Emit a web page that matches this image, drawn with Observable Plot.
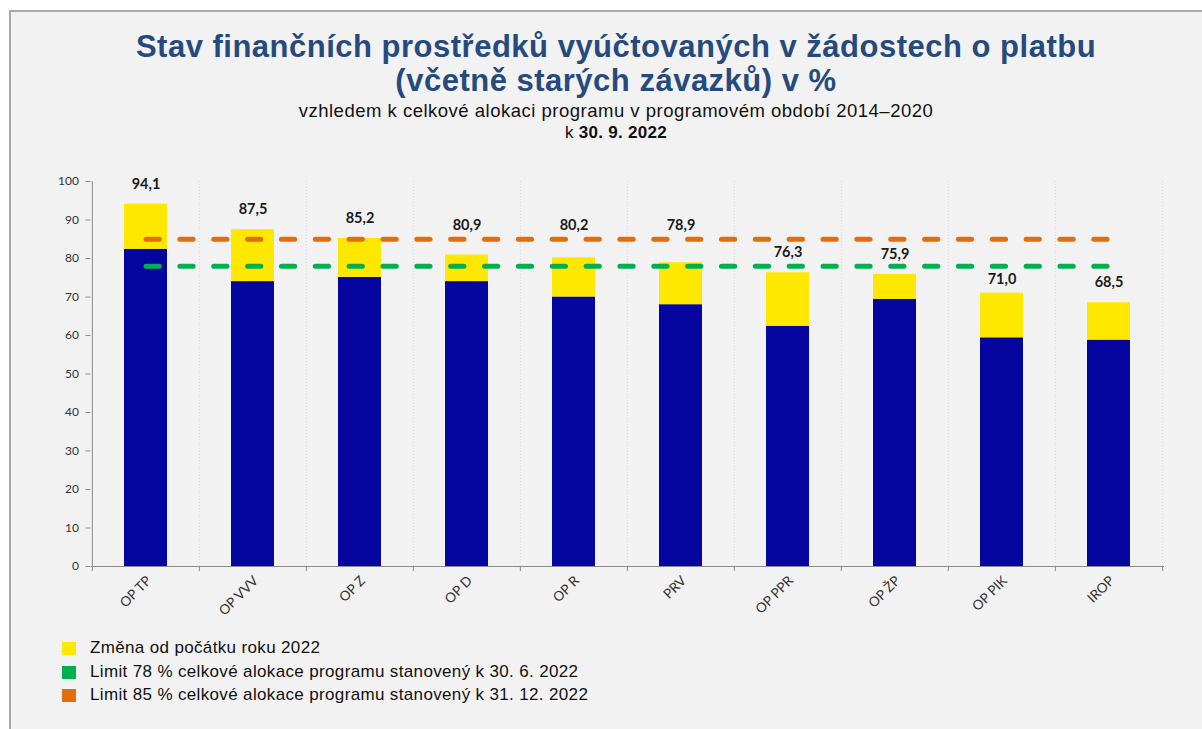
<!DOCTYPE html>
<html><head><meta charset="utf-8">
<script src="https://cdn.jsdelivr.net/npm/d3@7"></script>
<script src="https://cdn.jsdelivr.net/npm/@observablehq/plot@0.6"></script>
<style>
html,body{margin:0;padding:0;}
body{background:#fff;width:1202px;height:729px;overflow:hidden;position:relative;font-family:"Liberation Sans",Arial,sans-serif;}
#panel{position:absolute;left:9px;top:10px;width:1193px;height:719px;background:#f2f2f2;border-left:2px solid #a8a8a8;border-top:2px solid #a8a8a8;box-sizing:border-box;}
.t{position:absolute;left:0;width:1232px;text-align:center;white-space:nowrap;line-height:1;}
#title1,#title2{font-weight:bold;font-size:31px;letter-spacing:0.5px;color:#264a7d;}
#title1{top:31px;}
#title2{top:65px;}
#sub1{top:102px;font-size:18.5px;letter-spacing:0.5px;color:#111;}
#sub2{top:124px;font-size:17px;letter-spacing:0.3px;color:#111;}
#chart{position:absolute;left:0;top:160px;}
#legend{position:absolute;left:62px;top:641px;font-size:17px;letter-spacing:0.35px;color:#111;}
.li{position:relative;height:23.5px;}
.sw{position:absolute;left:0;top:1px;width:14px;height:13px;}
.lt{position:absolute;left:28px;top:-1px;white-space:nowrap;line-height:16px;}
</style>
</head><body>
<div id="panel"></div>
<div class="t" id="title1">Stav finančních prostředků vyúčtovaných v žádostech o platbu</div>
<div class="t" id="title2">(včetně starých závazků) v %</div>
<div class="t" id="sub1">vzhledem k celkové alokaci programu v programovém období 2014–2020</div>
<div class="t" id="sub2">k <b>30. 9. 2022</b></div>
<div id="chart"></div>
<div id="legend"></div>
<script>
// ---- data ----
const categories = ["OP TP","OP VVV","OP Z","OP D","OP R","PRV","OP PPR","OP ŽP","OP PIK","IROP"];
const totals = [94.1,87.5,85.2,80.9,80.2,78.9,76.3,75.9,71.0,68.5];
const bases  = [82.4,74.0,75.1,74.0,70.0,68.0,62.4,69.4,59.4,58.8];
const limitValues = [78, 85];
const limitNames = ["Limit 78 % celkové alokace programu stanovený k 30. 6. 2022","Limit 85 % celkové alokace programu stanovený k 31. 12. 2022"];
const changeName = "Změna od počátku roku 2022";
const yTicks = [0,10,20,30,40,50,60,70,80,90,100];

// ---- styles ----
const BLUE = "#0505a0", YELLOW = "#ffe800", GREEN = "#00b050", ORANGE = "#e46c0a";
const limitColors = [GREEN, ORANGE];

const W = 1202, H = 480, ML = 91, MR = 38, MT = 21, MB = 74;
const n = categories.length;
const step = (W - ML - MR) / n;
const pxPerUnit = (H - MT - MB) / 100;
const u = px => px / pxPerUnit;

const rows = categories.map((c, i) => ({cat: c, base: bases[i], total: totals[i]}));

// label placement: 20px above bar top, moved off the limit lines if they collide
rows.forEach(r => {
  let y = r.total + u(20);
  for (const L of limitValues) {
    if (Math.abs(y - L) < u(10)) {
      const below = L - u(13.5), above = L + u(13.5);
      y = (below >= r.total + u(12.5) && Math.abs(below - y) < Math.abs(above - y)) ? below : above;
    }
  }
  r.labelY = y;
});

const limitRows = [];
limitValues.forEach((v, k) => {
  limitRows.push({cat: categories[0], v, k});
  limitRows.push({cat: categories[n-1], v, k});
});

const fontTick = "Lato, 'Open Sans', sans-serif";

const plot = Plot.plot({
  width: W, height: H,
  marginLeft: ML, marginRight: MR, marginTop: MT, marginBottom: MB,
  style: {background: "transparent", fontFamily: fontTick, fontSize: "12px", color: "#333", overflow: "visible"},
  x: {domain: categories, paddingInner: 0.595, paddingOuter: 0.2975, label: null, axis: null},
  y: {domain: [0, 100], label: null, axis: null},
  marks: [
    // dotted vertical gridlines at category boundaries
    Plot.ruleX(categories.slice(1), {x: d => d, dx: -step/2, y1: 0, y2: 100, stroke: "#d6d6d6", strokeDasharray: "1,2", strokeWidth: 1}),
    Plot.ruleX([categories[n-1]], {x: d => d, dx: step/2, y1: 0, y2: 100, stroke: "#d6d6d6", strokeDasharray: "1,2", strokeWidth: 1}),
    // bars
    Plot.barY(rows, {x: "cat", y1: 0, y2: "base", fill: BLUE}),
    Plot.barY(rows, {x: "cat", y1: "base", y2: "total", fill: YELLOW}),
    // axes lines
    Plot.ruleX([categories[0]], {x: d => d, dx: -step/2, y1: 0, y2: 100, stroke: "#8a8a8a"}),
    Plot.ruleY([0], {stroke: "#8a8a8a"}),
    // x ticks at boundaries
    Plot.ruleX(categories, {x: d => d, dx: -step/2, y1: 0, y2: -u(5), stroke: "#8a8a8a"}),
    Plot.ruleX([categories[n-1]], {x: d => d, dx: step/2, y1: 0, y2: -u(5), stroke: "#8a8a8a"}),
    Plot.axisY({ticks: yTicks, tickSize: 5, tickPadding: 7, stroke: "#8a8a8a", fill: "#333", fontSize: 12, dx: -0.5, tickFormat: d => d}),
    Plot.axisX({tickSize: 0, tickPadding: 12, tickRotate: -45, fill: "#333", fontSize: 13.5, dx: 3}),
    // limit lines
    Plot.line(limitRows, {x: "cat", y: "v", z: "k", stroke: d => limitColors[d.k], strokeWidth: 5, strokeDasharray: "13.3,20.55", strokeLinecap: "round"}),
    // value labels
    Plot.text(rows, {x: "cat", y: "labelY", text: d => d.total.toFixed(1).replace(".", ","), fontWeight: "bold", fontSize: 14.5, fill: "#1a1a1a"})
  ]
});
document.getElementById("chart").appendChild(plot);

// legend
const legendItems = [{name: changeName, color: YELLOW}, ...limitNames.map((nm, k) => ({name: nm, color: limitColors[k]}))];
const lg = document.getElementById("legend");
legendItems.forEach(it => {
  const d = document.createElement("div"); d.className = "li";
  const s = document.createElement("div"); s.className = "sw"; s.style.background = it.color;
  const t = document.createElement("div"); t.className = "lt"; t.textContent = it.name;
  d.appendChild(s); d.appendChild(t); lg.appendChild(d);
});
</script>
</body></html>
